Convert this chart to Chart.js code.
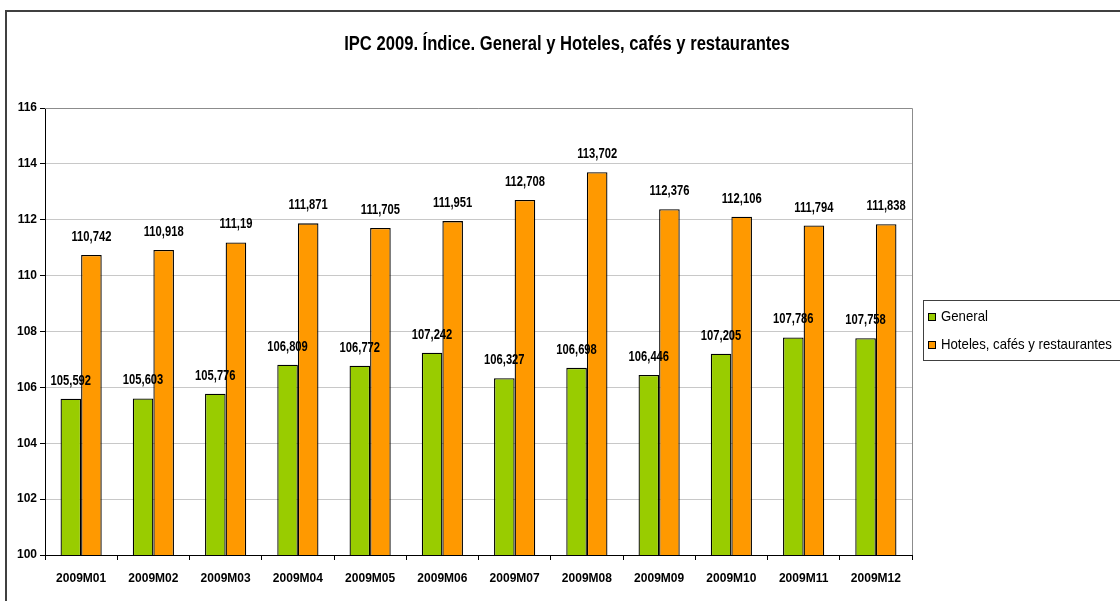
<!DOCTYPE html>
<html>
<head>
<meta charset="utf-8">
<script src="https://cdn.jsdelivr.net/npm/chart.js@4/dist/chart.umd.min.js"></script>
<style>
  html, body { margin: 0; padding: 0; background: #fff; }
  #wrap { width: 1120px; height: 601px; position: relative; }
</style>
</head>
<body>
<div id="wrap"><canvas id="canvasIPC" width="1120" height="601"></canvas></div>
<script>
// datos
var meses = ['2009M01','2009M02','2009M03','2009M04','2009M05','2009M06','2009M07','2009M08','2009M09','2009M10','2009M11','2009M12'];
var general = [105.592, 105.603, 105.776, 106.809, 106.772, 107.242, 106.327, 106.698, 106.446, 107.205, 107.786, 107.758];
var hoteles = [110.742, 110.918, 111.19, 111.871, 111.705, 111.951, 112.708, 113.702, 112.376, 112.106, 111.794, 111.838];
var serieNombres = ['General', 'Hoteles, cafés y restaurantes'];
var yTicks = [100, 102, 104, 106, 108, 110, 112, 114, 116];

var titulo = 'IPC 2009. Índice. General y Hoteles, cafés y restaurantes';
var FAM = '"Liberation Sans", Arial, sans-serif';
var colores = ['#99cc00', '#ff9900'];

function fmt(v) {
  return String(v).replace('.', ',');
}

// texto estrechado (el original usa una fuente condensada)
function textoEstrecho(ctx, txt, x, y, sx) {
  ctx.save();
  ctx.translate(x, y);
  ctx.scale(sx, 1);
  ctx.fillText(txt, 0, 0);
  ctx.restore();
}

var extras = {
  id: 'extras',
  beforeDraw: function(chart) {
    var ctx = chart.ctx;
    ctx.save();
    ctx.fillStyle = '#fff';
    ctx.fillRect(0, 0, chart.width, chart.height);
    // marco exterior
    ctx.strokeStyle = '#404040';
    ctx.lineWidth = 2;
    ctx.beginPath();
    ctx.moveTo(6, chart.height + 5);
    ctx.lineTo(6, 11);
    ctx.lineTo(chart.width + 5, 11);
    ctx.stroke();
    ctx.restore();
  },
  afterDraw: function(chart) {
    var ctx = chart.ctx;
    var a = chart.chartArea;
    ctx.save();
    // borde del area de trazado
    ctx.strokeStyle = '#8c8c8c';
    ctx.lineWidth = 1;
    ctx.beginPath();
    ctx.moveTo(a.left, a.top + 0.5);
    ctx.lineTo(a.right + 0.5, a.top + 0.5);
    ctx.lineTo(a.right + 0.5, a.bottom);
    ctx.stroke();

    // etiquetas de datos
    ctx.fillStyle = '#000';
    ctx.font = 'bold 14px ' + FAM;
    ctx.textAlign = 'center';
    ctx.textBaseline = 'alphabetic';
    chart.data.datasets.forEach(function(ds, i) {
      var meta = chart.getDatasetMeta(i);
      meta.data.forEach(function(bar, j) {
        textoEstrecho(ctx, fmt(ds.data[j]), bar.x, bar.y - 14, 0.8);
      });
    });

    // titulo
    ctx.font = 'bold 20px ' + FAM;
    textoEstrecho(ctx, titulo, 567, 50, 0.83);

    // leyenda
    ctx.strokeStyle = '#404040';
    ctx.strokeRect(923.5, 300.5, 220, 60);
    ctx.font = '15px ' + FAM;
    ctx.textAlign = 'left';
    ctx.textBaseline = 'middle';
    serieNombres.forEach(function(n, i) {
      var y = 316 + i * 28;
      ctx.fillStyle = colores[i];
      ctx.fillRect(928, y - 3, 7, 7);
      ctx.strokeStyle = '#000';
      ctx.strokeRect(928.5, y - 2.5, 7, 7);
      ctx.fillStyle = '#000';
      textoEstrecho(ctx, n, 941, y + 1, 0.88);
    });
    ctx.restore();
  }
};

var ctx = document.getElementById('canvasIPC');
var grafico = new Chart(ctx, {
  type: 'bar',
  data: {
    labels: meses,
    datasets: [
      {
        label: serieNombres[0],
        data: general,
        backgroundColor: colores[0],
        borderColor: '#000',
        borderWidth: 1.3,
        barPercentage: 1,
        categoryPercentage: 0.57
      },
      {
        label: serieNombres[1],
        data: hoteles,
        backgroundColor: colores[1],
        borderColor: '#000',
        borderWidth: 1.3,
        barPercentage: 1,
        categoryPercentage: 0.57
      }
    ]
  },
  options: {
    responsive: false,
    animation: false,
    layout: { padding: { left: 0, right: 208, top: 108, bottom: 0 } },
    plugins: {
      legend: { display: false },
      title: { display: false },
      tooltip: { enabled: false }
    },
    scales: {
      x: {
        grid: { display: true, drawOnChartArea: false, drawTicks: true, tickLength: 5, tickColor: '#000', offset: true },
        border: { display: true, color: '#000', width: 1 },
        ticks: { color: '#000', font: { family: FAM, size: 12, weight: 'bold' }, padding: 11, maxRotation: 0, autoSkip: false },
        afterFit: function(s) { s.height = 46; }
      },
      y: {
        min: 100,
        max: 116,
        afterBuildTicks: function(s) { s.ticks = yTicks.map(function(v) { return { value: v }; }); },
        grid: { color: '#c8c8c8', tickColor: '#000', tickLength: 5 },
        border: { display: true, color: '#000', width: 1 },
        ticks: { color: '#000', font: { family: FAM, size: 12, weight: 'bold' }, padding: 3 },
        afterFit: function(s) { s.width = 45; }
      }
    }
  },
  plugins: [extras]
});
</script>
</body>
</html>
